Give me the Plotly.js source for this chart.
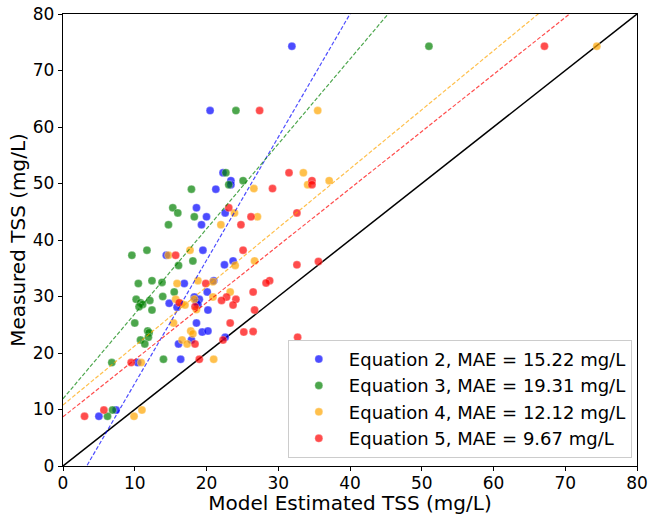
<!DOCTYPE html>
<html>
<head>
<meta charset="utf-8">
<script src="https://cdn.plot.ly/plotly-3.0.1.min.js"></script>
<style>html,body{margin:0;padding:0;background:#fff;}#chart{width:651px;height:515px;}</style>
</head>
<body>
<div id="chart"></div>
<script>
// Series names
const seriesNames = [
  "Equation 2, MAE = 15.22 mg/L",
  "Equation 3, MAE = 19.31 mg/L",
  "Equation 4, MAE = 12.12 mg/L",
  "Equation 5, MAE = 9.67 mg/L"
];

// Equation 2 (blue)
const eq2X = [31.9,20.5,22.3,23.4,23.4,21.3,18.6,22.6,20.0,19.3,19.5,14.4,23.7,22.5,16.9,21.0,20.1,18.3,19.0,14.8,18.6,18.8,15.9,20.2,18.6,19.4,20.2,22.6,16.1,17.9,16.4,10.4,7.4,5.0];
const eq2Y = [74.3,62.9,51.9,50.5,49.8,49.0,45.7,44.8,44.1,42.7,38.2,37.3,36.3,35.6,32.3,32.8,30.8,29.9,29.5,28.8,29.0,28.6,28.1,27.6,25.3,23.7,23.9,22.8,21.6,22.3,18.9,18.3,9.9,8.8];

// Equation 3 (green)
const eq3X = [51.0,24.1,22.7,25.1,23.1,17.9,15.3,16.0,18.3,14.7,11.7,9.6,18.1,16.1,12.4,13.8,10.5,15.5,13.9,10.2,12.1,10.8,11.1,10.6,12.4,10.0,11.8,12.0,11.9,10.8,11.4,14.0,6.8,6.9,6.2];
const eq3Y = [74.3,62.9,51.9,50.5,49.8,49.0,45.7,44.8,44.1,42.7,38.2,37.3,36.3,35.5,32.8,32.5,32.3,30.8,30.0,29.5,29.3,28.9,28.6,28.2,27.6,25.3,23.9,23.6,22.8,22.3,21.6,18.9,18.3,9.9,8.8];

// Equation 4 (orange)
const eq4X = [74.4,35.5,33.5,37.1,34.1,26.6,23.9,27.1,22.0,17.7,14.7,26.7,24.0,18.8,15.9,20.9,23.3,20.9,15.7,18.3,16.5,17.0,18.6,15.4,17.8,18.1,16.6,17.3,21.0,10.9,11.0,9.9];
const eq4Y = [74.3,62.9,51.9,50.5,49.8,49.1,44.8,44.1,42.7,38.2,37.3,36.3,35.5,32.8,32.3,32.6,30.8,29.9,29.5,29.5,28.7,28.5,27.7,25.3,23.9,23.4,22.3,21.6,18.9,18.3,9.9,8.8];

// Equation 5 (red)
const eq5X = [67.1,27.4,31.5,34.7,34.7,29.2,23.1,32.6,26.2,24.8,25.1,15.7,35.6,32.6,28.8,28.3,19.9,26.5,22.8,22.1,24.1,16.2,23.7,18.4,26.7,23.3,25.2,26.5,32.7,22.3,18.4,19.0,9.5,5.7,3.0];
const eq5Y = [74.3,62.9,51.9,50.5,49.8,49.1,45.7,44.8,44.1,42.7,38.2,37.3,36.2,35.6,32.8,32.4,32.3,30.8,29.9,29.3,29.5,28.9,28.5,28.2,27.6,25.3,23.7,23.8,22.8,22.3,21.6,18.9,18.3,9.9,8.8];

// Fitted trend lines: slope and intercept per equation
const fitSlope = [2.18, 1.503, 1.045, 1.01];
const fitIntercept = [-7.2, 11.9, 10.8, 8.7];
const fitXRange = [0, 80];

// 1:1 line
const oneToOne = [0, 80];

const colors = ["rgba(0,0,255,0.7)","rgba(0,128,0,0.7)","rgba(255,165,0,0.7)","rgba(255,0,0,0.7)"];
const allX = [eq2X, eq3X, eq4X, eq5X];
const allY = [eq2Y, eq3Y, eq4Y, eq5Y];

const traces = [];
traces.push({x: oneToOne, y: oneToOne, mode: 'lines', line: {color: 'black', width: 1.5}, showlegend: false, hoverinfo: 'skip'});
for (let i = 0; i < 4; i++) {
  traces.push({
    x: allX[i], y: allY[i], mode: 'markers', type: 'scatter', name: seriesNames[i],
    marker: {color: colors[i], size: 8, line: {width: 0.8, color: 'rgba(255,255,255,0.35)'}}
  });
}
for (let i = 0; i < 4; i++) {
  traces.push({
    x: fitXRange, y: fitXRange.map(v => fitSlope[i] * v + fitIntercept[i]),
    mode: 'lines', line: {color: colors[i], width: 1.2, dash: '4px,2px'},
    showlegend: false, hoverinfo: 'skip'
  });
}

const axisCommon = {
  range: [0, 80], dtick: 10, tick0: 0, showgrid: false, zeroline: false,
  showline: true, mirror: true, linecolor: 'black', linewidth: 1.2,
  ticks: 'outside', ticklen: 4, tickwidth: 1, tickcolor: 'black',
  tickfont: {size: 17, color: 'black'}
};

const layout = {
  width: 651, height: 515,
  margin: {l: 63, r: 14, t: 14, b: 49},
  paper_bgcolor: 'white', plot_bgcolor: 'white',
  font: {family: 'DejaVu Sans', color: 'black'},
  xaxis: Object.assign({}, axisCommon, {ticklabelstandoff: -3, title: {text: 'Model Estimated TSS (mg/L)', font: {size: 20}, standoff: 8}}),
  yaxis: Object.assign({}, axisCommon, {title: {text: 'Measured TSS (mg/L)', font: {size: 20}, standoff: 1}}),
  showlegend: true,
  legend: {
    x: 0.991, xanchor: 'right', y: 0.018, yanchor: 'bottom',
    bgcolor: 'rgba(255,255,255,0.9)', bordercolor: '#cccccc', borderwidth: 1,
    font: {size: 18, color: 'black'}, itemwidth: 50, tracegroupgap: 0
  }
};

Plotly.newPlot('chart', traces, layout, {displayModeBar: false, staticPlot: true});
</script>
</body>
</html>
